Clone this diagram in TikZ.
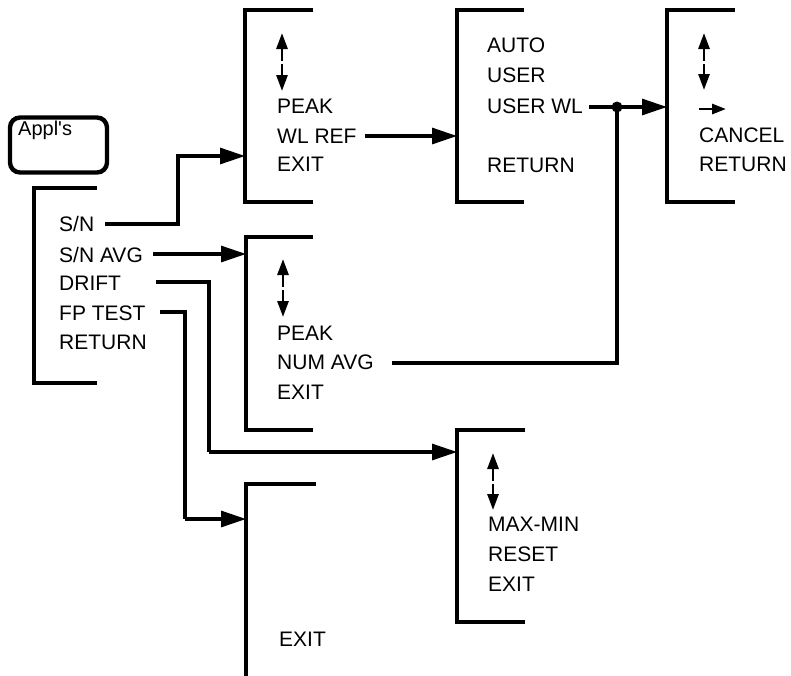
\documentclass[tikz,border=0pt]{standalone}
\usepackage{fontspec}
\setmainfont{Liberation Sans}
\usetikzlibrary{arrows.meta}
\begin{document}
\begin{tikzpicture}[x=1pt,y=-1pt,
  bracket/.style={line width=3.6pt},
  conn/.style={line width=3.1pt},
  bigarrow/.style={conn,-{Triangle[length=25pt,width=16pt]}},
  updown/.style={line width=2.8pt,-{Triangle[length=16pt,width=11pt]}},
  item/.style={anchor=base west,inner sep=0pt,font=\fontsize{21}{24}\selectfont},
  dot/.style={circle,fill=black,inner sep=0pt,minimum size=11pt}
]
\useasboundingbox (0,0) rectangle (791,675);

% Appl's key
\node[draw,line width=4.4pt,rounded corners=10pt,minimum width=97pt,minimum height=55pt,inner sep=0pt] (applbox) at (58.5,145) {};
\node[anchor=base west,inner sep=0pt,font=\fontsize{20}{23}\selectfont] (appl) at (18,135) {Appl\textquotesingle s};

% brackets
\draw[bracket] (97,188) -- (34,188) -- (34,383) -- (97,383);
\draw[bracket] (313,10) -- (245,10) -- (245,202) -- (313,202);
\draw[bracket] (524,10) -- (457,10) -- (457,202) -- (524,202);
\draw[bracket] (735,10) -- (667,10) -- (667,202) -- (735,202);
\draw[bracket] (313,237) -- (246,237) -- (246,430) -- (313,430);
\draw[bracket] (525,430) -- (457,430) -- (457,622) -- (525,622);
\draw[bracket] (316,484) -- (246,484) -- (246,680);

% arrow targets on the brackets
\coordinate (inA) at (245,156);
\coordinate (inB) at (457,136);
\coordinate (inC) at (667,107);
\coordinate (inD) at (246,254);
\coordinate (inE) at (457,452);
\coordinate (inF) at (246,519);

% main menu
\node[item] (sn) at (59,231.5) {S/N};
\node[item] (snavg) at (59,262) {S/N AVG};
\node[item] (drift) at (59,290.5) {DRIFT};
\node[item] (fptest) at (59,320) {FP TEST};
\node[item] (ret0) at (59,349.5) {RETURN};

% menu 1
\node[item] (peak1) at (277,113.5) {PEAK};
\node[item] (wlref) at (277,143.5) {WL REF};
\node[item] (exit1) at (277,171.5) {EXIT};
\draw[updown] (282,61) -- (282,33);
\draw[updown] (282,64) -- (282,91);

% menu 2
\node[item] (auto) at (487,52.5) {AUTO};
\node[item] (user) at (487,82.5) {USER};
\node[item] (userwl) at (487,113.5) {USER WL};
\node[item] (ret2) at (487,172.5) {RETURN};

% menu 3
\draw[updown] (704,61) -- (704,33);
\draw[updown] (704,64) -- (704,90);
\draw[line width=2.8pt,-{Triangle[length=14pt,width=10pt]}] (699,109) -- (726,109);
\node[item] (cancel) at (699,142.5) {CANCEL};
\node[item] (ret3) at (699,171.5) {RETURN};

% menu 4
\draw[updown] (283,287) -- (283,259);
\draw[updown] (283,290) -- (283,317);
\node[item] (peak4) at (277,340.5) {PEAK};
\node[item] (numavg) at (277,369.5) {NUM AVG};
\node[item] (exit4) at (277,399.5) {EXIT};

% menu 5
\draw[updown] (493,481) -- (493,453);
\draw[updown] (493,484) -- (493,510);
\node[item] (maxmin) at (488,531.5) {MAX-MIN};
\node[item] (reset) at (488,561.5) {RESET};
\node[item] (exit5) at (488,591.5) {EXIT};

% menu 6
\node[item] (exit6) at (279,646.5) {EXIT};

% junction
\node[dot] (junc) at (617,107) {};

% connectors
\draw[bigarrow] ([xshift=11pt,yshift=7.5pt]sn.base east) -| (178,156) -- (inA);
\draw[bigarrow] ([xshift=10pt,yshift=8pt]snavg.base east) -- (inD);
\draw[conn] ([xshift=35pt,yshift=8.5pt]drift.base east) -| (209,452);
\draw[bigarrow] (209,452) -- (inE);
\draw[conn] ([xshift=14pt,yshift=8pt]fptest.base east) -| (185,519);
\draw[bigarrow] (185,519) -- (inF);
\draw[bigarrow] ([xshift=8pt,yshift=7.5pt]wlref.base east) -- (inB);
\draw[conn] ([xshift=6pt,yshift=6.5pt]userwl.base east) -- (junc.center);
\draw[bigarrow] (junc.center) -- (inC);
\draw[conn] ([xshift=18pt,yshift=6.5pt]numavg.base east) -| (junc.center);
\end{tikzpicture}
\end{document}
